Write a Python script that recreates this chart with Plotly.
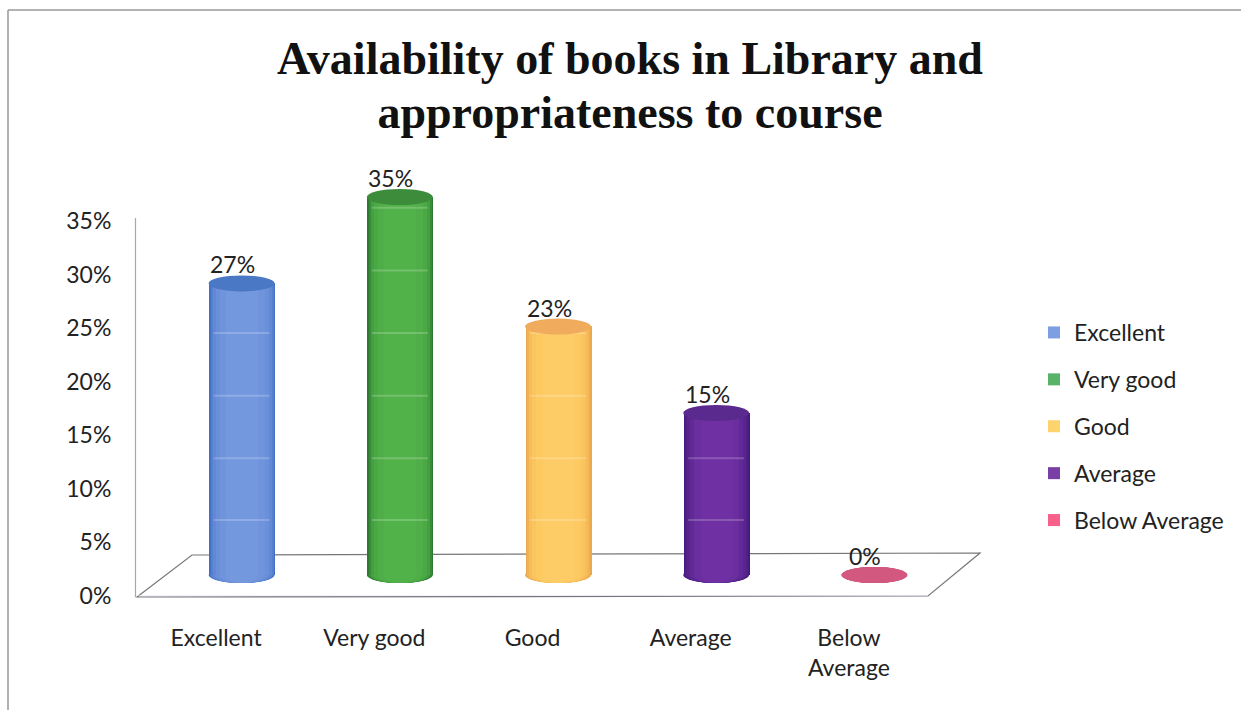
import plotly.graph_objects as go

W, H = 1241, 710

categories = ["Excellent", "Very good", "Good", "Average", "Below Average"]
tick_labels = ["Excellent", "Very good", "Good", "Average", "Below<br>Average"]
values = [27, 35, 23, 15, 0]
y_ticks = [0, 5, 10, 15, 20, 25, 30, 35]

shade_colors = [
    ["#4470c4", "#5580cf", "#6189d6", "#6a90da", "#7094dc", "#7498de"],
    ["#2c7a32", "#388c38", "#43a03f", "#4aa944", "#4fae48", "#52b24a"],
    ["#eba94e", "#f1b352", "#f6bd58", "#fac45e", "#fdca62", "#fdcc66"],
    ["#461a7e", "#4f2086", "#58258e", "#612996", "#6a2e9e", "#6e30a2"],
    ["#d0557f", "#d0557f", "#d0557f", "#d0557f", "#d0557f", "#d0557f"],
]
top_colors = ["#4a78c4", "#3c8c3c", "#f0ab5c", "#5a2a8e", "#d2587f"]
legend_colors = ["#7b9fe0", "#58b368", "#fcd36c", "#7a3fa5", "#f9618a"]
band_levels = [5.1, 10.8, 16.6, 22.4, 28.2, 34]

CAT_PX = 158.2
layer_widths = [66, 63, 59, 53, 45, 32]


def px_x(p):
    return p / W


def py(p):
    return 1 - p / H


fig = go.Figure()

# Invisible primary trace holds the category axis and value axis
fig.add_trace(go.Bar(x=categories, y=[0] * 5, xaxis="x", yaxis="y", showlegend=False,
                     hoverinfo="skip", marker=dict(color="rgba(0,0,0,0)")))

shapes = []
# Chart frame and 3D floor
shapes.append(dict(type="line", xref="paper", yref="paper", x0=px_x(8), x1=px_x(8), y0=py(10), y1=0,
                   line=dict(color="#9a9a9a", width=1.5), layer="below"))
shapes.append(dict(type="line", xref="paper", yref="paper", x0=px_x(8), x1=1, y0=py(10), y1=py(10),
                   line=dict(color="#9a9a9a", width=1.5), layer="below"))
floor = (f"M{px_x(137)},{py(597)} L{px_x(192)},{py(555)} L{px_x(980)},{py(553)} "
         f"L{px_x(928)},{py(596)} Z")
shapes.append(dict(type="path", xref="paper", yref="paper", path=floor,
                   line=dict(color="#777777", width=1.2), fillcolor="rgba(0,0,0,0)", layer="below"))
shapes.append(dict(type="line", xref="paper", yref="paper", x0=px_x(135.5), x1=px_x(135.5), y0=py(218), y1=py(597),
                   line=dict(color="#a8a8a8", width=1.2), layer="below"))

for i, cat in enumerate(categories):
    for k, wpx in enumerate(layer_widths):
        fig.add_trace(go.Bar(
            x=[cat], y=[values[i]], width=wpx / CAT_PX, name=cat,
            xaxis="x2", yaxis="y2", legendgroup=cat,
            showlegend=False, hoverinfo="skip",
            marker=dict(color=shade_colors[i][k], line=dict(width=0)),
        ))
        shapes.append(dict(type="circle", xref="x2", yref="y2", layer="below",
                           xsizemode="pixel", ysizemode="pixel",
                           xanchor=i, yanchor=0,
                           x0=-wpx / 2, x1=wpx / 2, y0=-8, y1=8,
                           fillcolor=shade_colors[i][k], line=dict(width=0)))
    # Legend entry
    fig.add_trace(go.Bar(x=[cat], y=[None], name=cat, xaxis="x2", yaxis="y2", legendgroup=cat,
                         showlegend=True, hoverinfo="skip",
                         marker=dict(color=legend_colors[i], line=dict(width=0))))
    for b in band_levels:
        if b < values[i]:
            shapes.append(dict(type="line", xref="x2", yref="y2", layer="above",
                               xsizemode="pixel", xanchor=i, x0=-28, x1=28, y0=b, y1=b,
                               line=dict(color="rgba(255,255,255,0.2)", width=2)))
    shapes.append(dict(type="circle", xref="x2", yref="y2", layer="above",
                       xsizemode="pixel", ysizemode="pixel",
                       xanchor=i, yanchor=values[i],
                       x0=-33, x1=33, y0=-8, y1=8,
                       fillcolor=top_colors[i], line=dict(width=0)))

annotations = [
    dict(x=cat, y=v, xref="x2", yref="y2", text=f"{v}%", showarrow=False,
         xshift=-9, yshift=19, yanchor="middle", xanchor="center",
         font=dict(family="Lato", size=23, color="#222222"))
    for cat, v in zip(categories, values)
]

AXIS_FONT = dict(family="Lato", size=23, color="#222222")
TITLE_FONT = dict(family="Liberation Serif", size=41.5, color="#111111", weight="bold")
TITLE_TEXT = ('<span style="font-size:46px">Availability of books in Library and</span><br>'
              '<span style="font-size:46px">appropriateness to course</span>')

fig.update_layout(
    width=W, height=H,
    margin=dict(l=0, r=0, t=0, b=0, autoexpand=False),
    paper_bgcolor="#ffffff", plot_bgcolor="rgba(0,0,0,0)",
    barmode="overlay", bargap=0,
    title=dict(text=TITLE_TEXT,
               x=630 / W, xanchor="center", y=py(74), yanchor="middle",
               font=TITLE_FONT),
    xaxis=dict(domain=[px_x(137), px_x(928)], anchor="y", type="category",
               categoryorder="array", categoryarray=categories,
               tickmode="array", tickvals=categories, ticktext=tick_labels,
               range=[-0.5, 4.5], showgrid=False, zeroline=False, showline=False,
               ticks="outside", ticklen=21, tickcolor="rgba(0,0,0,0)", tickfont=AXIS_FONT),
    yaxis=dict(domain=[py(596), py(221)], anchor="x", range=[0, 35],
               tickmode="array", tickvals=y_ticks, ticktext=[f"{t}%" for t in y_ticks],
               showgrid=False, zeroline=False, showline=False,
               ticks="outside", ticklen=20, tickcolor="rgba(0,0,0,0)", tickfont=AXIS_FONT),
    xaxis2=dict(domain=[px_x(162.5), px_x(953.5)], anchor="y2", type="category",
                categoryorder="array", categoryarray=categories,
                range=[-0.5, 4.5], visible=False),
    yaxis2=dict(domain=[py(596.6), py(186.2)], anchor="x2", range=[-2, 36], visible=False),
    legend=dict(x=1034 / W, xanchor="left", y=py(311), yanchor="top",
                traceorder="grouped", tracegroupgap=14,
                font=dict(family="Lato", size=23, color="#222222"),
                bgcolor="rgba(0,0,0,0)"),
    shapes=shapes,
    annotations=annotations,
    hovermode=False,
)

fig.write_html("out.html", config={"displayModeBar": False},
               post_script="document.body.style.margin='0';document.body.style.overflow='hidden';")
